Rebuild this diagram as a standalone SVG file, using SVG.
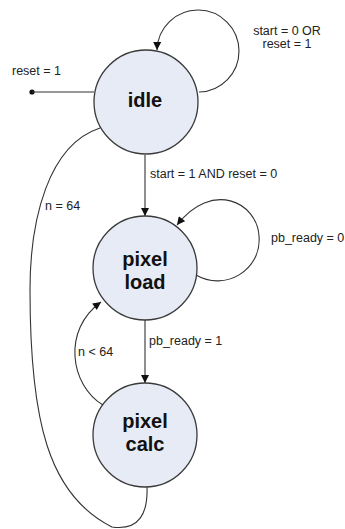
<svg xmlns="http://www.w3.org/2000/svg" width="345" height="529" viewBox="0 0 345 529">
  <style>
    .state { fill: #e6ebf5; stroke: #3a3a3a; stroke-width: 1.3; }
    .name { font-family: "Liberation Sans", Arial, sans-serif; font-weight: bold; font-size: 20px; fill: #111; text-anchor: middle; }
    .edge { fill: none; stroke: #333; stroke-width: 1.1; }
    .lbl { font-family: "Liberation Sans", Arial, sans-serif; font-size: 12.5px; fill: #222; }
  </style>
  <defs>
    <marker id="arrow" viewBox="0 0 10 10" refX="10" refY="5" markerWidth="9" markerHeight="8" markerUnits="userSpaceOnUse" orient="auto">
      <path d="M0,0 L10,5 L0,10 z" fill="#111"/>
    </marker>
  </defs>

  <g id="connectors">
    <!-- reset entry -->
    <circle cx="32" cy="92" r="2.6" fill="#111"/>
    <line class="edge" x1="32" y1="92" x2="94" y2="92"/>
    <!-- idle self loop -->
    <path class="edge" d="M 199 92 A 41 41 0 1 0 157 50" marker-end="url(#arrow)"/>
    <!-- idle to pixel load -->
    <line class="edge" x1="145" y1="155" x2="145" y2="216" marker-end="url(#arrow)"/>
    <!-- pixel load self loop -->
    <path class="edge" d="M 196 275 C 225 292, 262 270, 259 236 C 257 202, 212 180, 177 225" marker-end="url(#arrow)"/>
    <!-- pixel load to pixel calc -->
    <line class="edge" x1="145" y1="320" x2="145" y2="383" marker-end="url(#arrow)"/>
    <!-- pixel calc back to pixel load -->
    <path class="edge" d="M 103 405 C 70 385, 62 330, 101 302" marker-end="url(#arrow)"/>
    <!-- pixel calc back to idle -->
    <path class="edge" d="M 100 128 C 48 145, 30 220, 30 290 C 30 420, 48 495, 112 527 C 140 531, 148 512, 147 487"/>
  </g>

  <g id="labels">
    <text class="lbl" x="12" y="75">reset = 1</text>
    <text class="lbl" x="287" y="35" text-anchor="middle">start = 0 OR</text>
    <text class="lbl" x="287" y="48" text-anchor="middle">reset = 1</text>
    <text class="lbl" x="150" y="178">start = 1 AND reset = 0</text>
    <text class="lbl" x="45" y="210">n = 64</text>
    <text class="lbl" x="271" y="242">pb_ready = 0</text>
    <text class="lbl" x="149" y="345">pb_ready = 1</text>
    <text class="lbl" x="78" y="356">n &lt; 64</text>
  </g>

  <g id="idle">
    <circle class="state" cx="146" cy="102" r="52"/>
    <text class="name" x="145" y="107">idle</text>
  </g>
  <g id="pixel-load">
    <circle class="state" cx="145" cy="268" r="52"/>
    <text class="name" x="145" y="266">pixel</text>
    <text class="name" x="145" y="289">load</text>
  </g>
  <g id="pixel-calc">
    <circle class="state" cx="145" cy="435" r="52"/>
    <text class="name" x="145" y="428">pixel</text>
    <text class="name" x="145" y="451">calc</text>
  </g>
</svg>
